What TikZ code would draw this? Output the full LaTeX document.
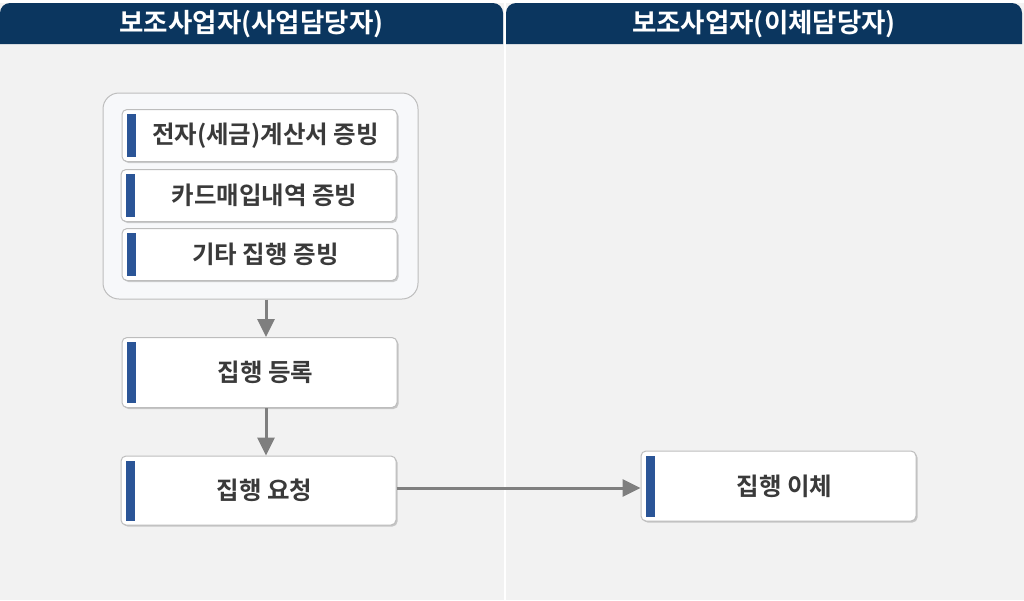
\documentclass[tikz,border=0pt]{standalone}
\usepackage{fontspec}
\setmainfont{Noto Sans CJK KR}[BoldFont={Noto Sans CJK KR Bold}]
\newfontfamily\hdfont{Noto Sans CJK KR Bold}
\usetikzlibrary{arrows.meta,shadows,calc}
\definecolor{hdnavy}{HTML}{0B365F}
\definecolor{bggray}{HTML}{F2F2F2}
\definecolor{grpfill}{HTML}{F7F8FA}
\definecolor{bordergray}{HTML}{BDBDBD}
\definecolor{barblue}{HTML}{2B5597}
\definecolor{txtgray}{HTML}{3A3A3A}
\definecolor{arrgray}{HTML}{7F7F7F}
\tikzset{
  hdrtext/.style={text=white, font=\hdfont\fontsize{26.5}{30}\selectfont},
  grpbox/.style={draw=bordergray, line width=1pt, fill=grpfill, rounded corners=16pt},
  stepbox/.style={draw=bordergray, line width=1pt, fill=white, rounded corners=5pt,
    minimum width=275pt, minimum height=#1, inner sep=0pt,
    text=txtgray, font=\bfseries\fontsize{24.5}{28}\selectfont,
    drop shadow={opacity=0.18, shadow xshift=1.5pt, shadow yshift=-1.5pt, fill=black}},
  bar/.style={fill=barblue},
  flow/.style={draw=arrgray, line width=3pt, -{Triangle[width=17pt,length=18pt]}}
}
\newcommand{\stepbar}[1]{\fill[bar] ([xshift=5pt,yshift=-5pt]#1.north west) rectangle ([xshift=14pt,yshift=5pt]#1.south west);}
\begin{document}
\begin{tikzpicture}[x=1pt,y=-1pt]
\useasboundingbox (0,0) rectangle (1024,600);
\fill[bggray] (0,0) rectangle (1024,600);
\fill[white] (0,0) rectangle (1024,3);
% headers
\fill[hdnavy] (0,44) -- (0,13) arc[start angle=180,end angle=90,radius=10pt] -- (493,3) arc[start angle=90,end angle=0,radius=10pt] -- (503,44) -- cycle;
\fill[hdnavy] (506,44) -- (506,13) arc[start angle=180,end angle=90,radius=10pt] -- (1012,3) arc[start angle=90,end angle=0,radius=10pt] -- (1022,44) -- cycle;
\node[hdrtext] (h1) at (251.5,24) {보조사업자(사업담당자)};
\node[hdrtext] (h2) at (764,24) {보조사업자(이체담당자)};
% separator
\draw[white, line width=2pt] (504.5,3) -- (504.5,600);
% group
\node[grpbox, minimum width=315pt, minimum height=206pt] (grp) at (260.5,196) {};
% steps
\node[stepbox=52pt] (s1) at (259.5,135.5) {\hspace*{12pt}전자(세금)계산서 증빙};
\node[stepbox=52pt] (s2) at (258.5,195.5) {\hspace*{12pt}카드매입내역 증빙};
\node[stepbox=52pt] (s3) at (259.5,254.5) {\hspace*{12pt}기타 집행 증빙};
\node[stepbox=70pt] (reg) at (259.5,372.5) {\hspace*{12pt}집행 등록};
\node[stepbox=69pt] (req) at (258.5,490.5) {\hspace*{12pt}집행 요청};
\node[stepbox=70pt] (exe) at (778.5,486) {\hspace*{12pt}집행 이체};
\stepbar{s1}\stepbar{s2}\stepbar{s3}\stepbar{reg}\stepbar{req}\stepbar{exe}
% arrows
\coordinate (ax) at (266,0);
\coordinate (ay) at (0,488);
\draw[flow] (grp.south -| ax) -- (reg.north -| ax);
\draw[flow] (reg.south -| ax) -- (req.north -| ax);
\draw[flow] (req.east |- ay) -- (exe.west |- ay);
\end{tikzpicture}
\end{document}
